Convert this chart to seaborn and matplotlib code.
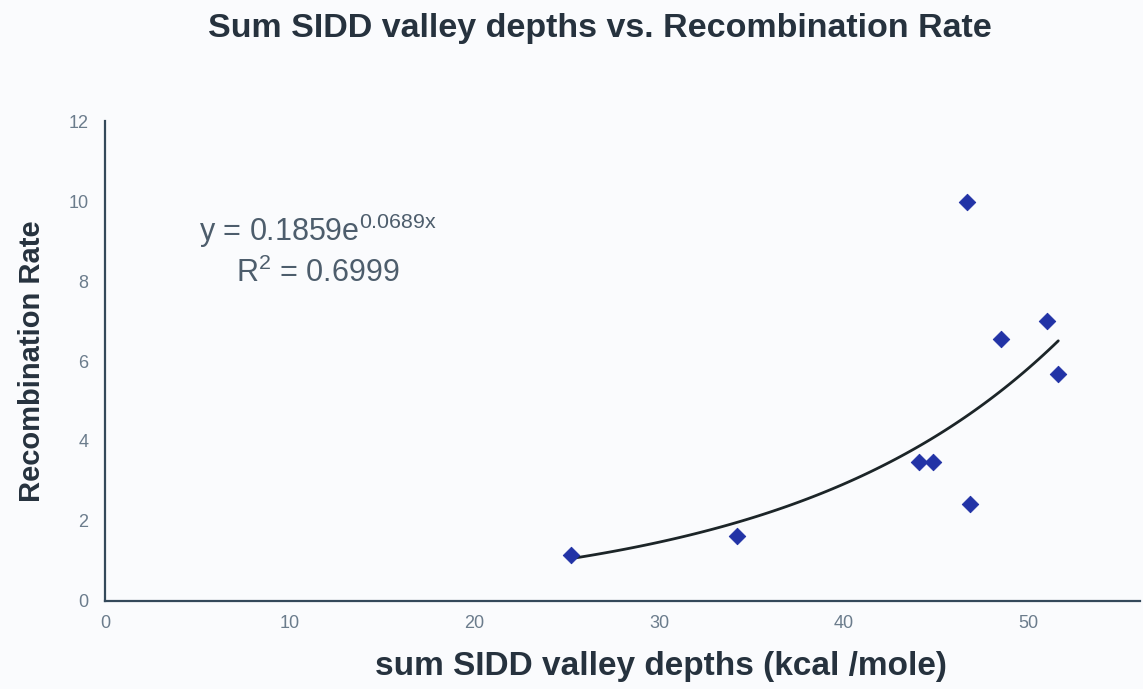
import numpy as np
import pandas as pd
import matplotlib
matplotlib.use("Agg")
import matplotlib.pyplot as plt
import seaborn as sns

# Data
depths = [25.2, 34.2, 44.05, 44.8, 46.65, 46.8, 48.5, 51.0, 51.6]
rates = [1.15, 1.63, 3.47, 3.47, 9.98, 2.43, 6.56, 6.99, 5.68]
fit_a = 0.1859
fit_b = 0.0689
x_ticks = [0, 10, 20, 30, 40, 50]
y_ticks = [0, 2, 4, 6, 8, 10, 12]

sns.set_theme(style="white")
plt.rcParams['font.family'] = ['Liberation Sans', 'DejaVu Sans']
plt.rcParams['mathtext.default'] = 'regular'

bg = "#fafbfd"
axis_col = "#34495a"
tick_col = "#6b7c8c"
text_col = "#26323e"

fig = plt.figure(figsize=(11.43, 6.89), dpi=100, facecolor=bg)
ax = fig.add_axes([0.092, 0.128, 0.905, 0.696])
ax.set_facecolor(bg)

df = pd.DataFrame({"x": depths, "y": rates})
xs = np.linspace(min(depths), max(depths), 100)
fit = pd.DataFrame({"x": xs, "y": fit_a * np.exp(fit_b * xs)})

sns.lineplot(data=fit, x="x", y="y", ax=ax, color="#1c2528", linewidth=2.0, zorder=2)
sns.scatterplot(data=df, x="x", y="y", ax=ax, marker="D", s=70, color="#2233a6",
                edgecolor="#2233a6", zorder=3)

ax.set_xlim(0, 56)
ax.set_ylim(0, 12)
ax.set_xticks(x_ticks)
ax.set_yticks(y_ticks)
for s in ["top", "right"]:
    ax.spines[s].set_visible(False)
for s in ["left", "bottom"]:
    ax.spines[s].set_color(axis_col)
    ax.spines[s].set_linewidth(1.6)
ax.tick_params(axis="both", which="major", direction="out", length=6, width=1.2,
               color=axis_col, labelcolor=tick_col, labelsize=13, pad=6)
ax.tick_params(axis="x", length=4)

ax.set_xlabel("sum SIDD valley depths (kcal /mole)", fontsize=24, fontweight="bold",
              color=text_col, labelpad=14)
ax.xaxis.set_label_coords(0.537, -0.105)
ax.set_ylabel("Recombination Rate", fontsize=21, fontweight="bold", color=text_col, labelpad=16)

fig.text(0.525, 0.958, "Sum SIDD valley depths vs. Recombination Rate", ha="center", va="center",
         fontsize=24.5, fontweight="bold", color=text_col)

ax.text(5.1, 9.25, "y = 0.1859e$^{0.0689x}$", fontsize=22, color="#4d5d6c", ha="left", va="center")
ax.text(7.1, 8.2, "R$^{2}$ = 0.6999", fontsize=22, color="#4d5d6c", ha="left", va="center")

fig.savefig("out.png", dpi=100, facecolor=bg)
